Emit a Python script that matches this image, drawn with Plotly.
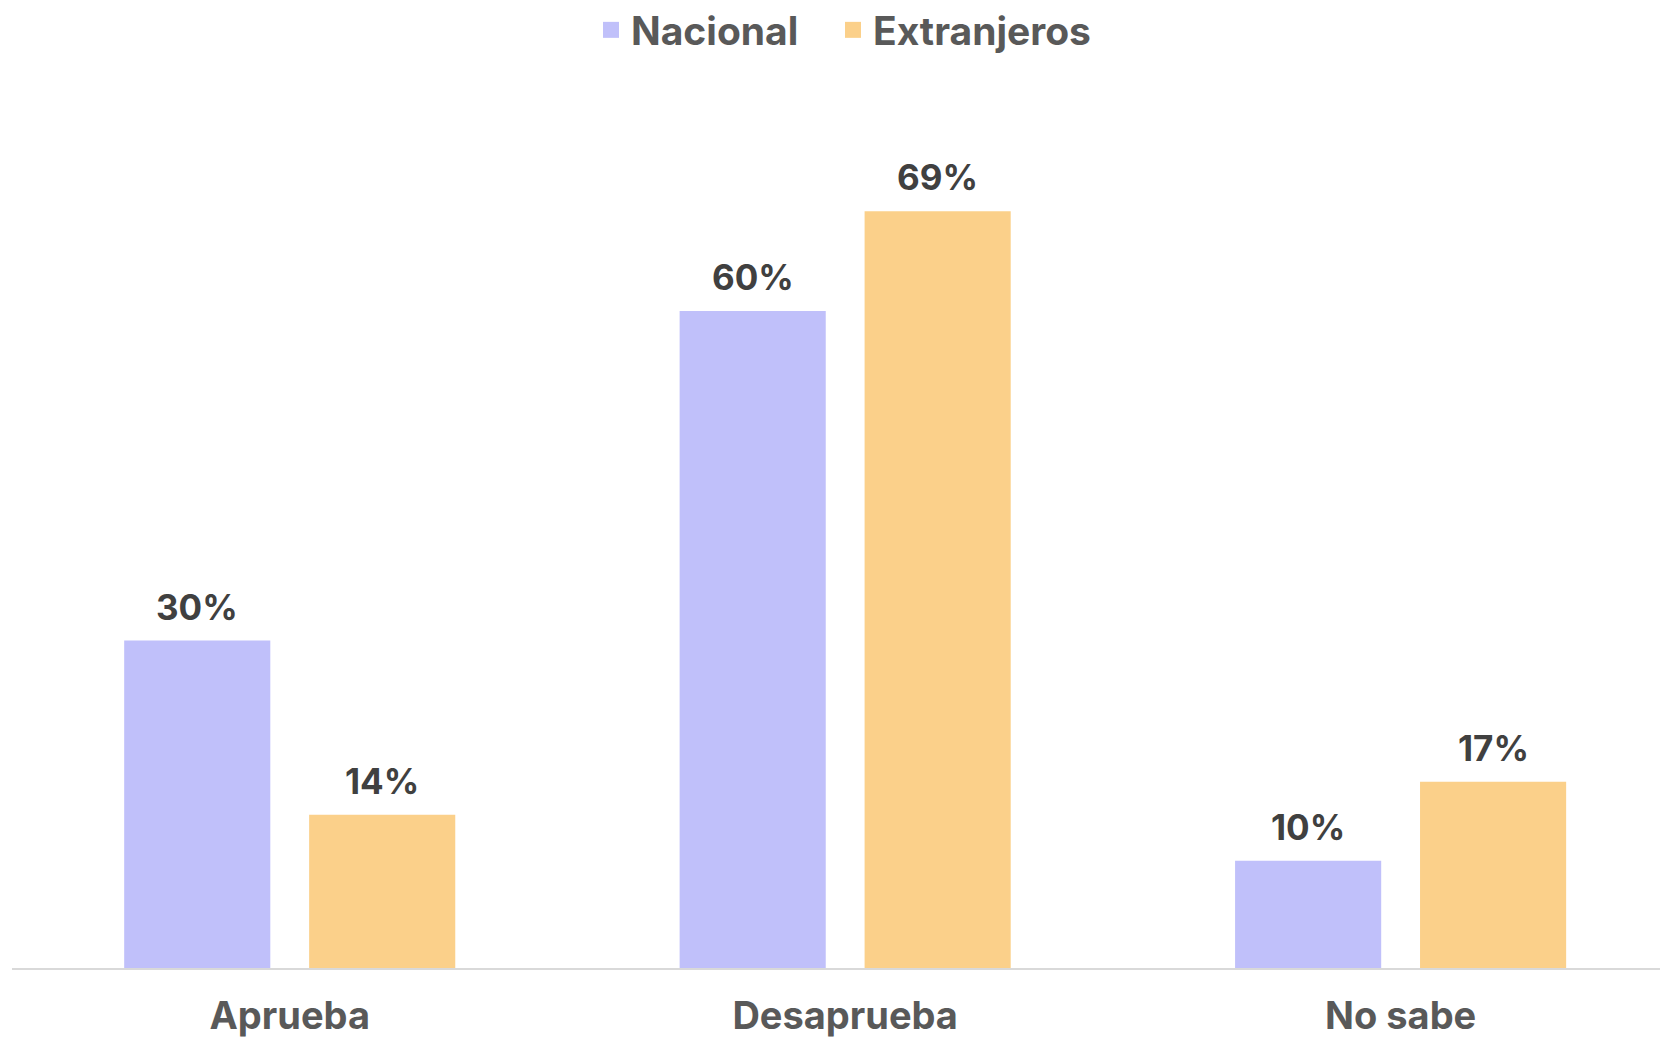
import plotly.graph_objects as go

categories = ["Aprueba", "Desaprueba", "No sabe"]
series_names = ["Nacional", "Extranjeros"]
nacional = [29.9, 60.0, 9.8]
extranjeros = [14.0, 69.1, 17.0]
labels_nacional = ["30%", "60%", "10%"]
labels_extranjeros = ["14%", "69%", "17%"]

colors = ["#C0C0FA", "#FBD08A"]
FONT = "Inter"
BARGAP = 0.334
GROUPGAP = 0.21
W, H = 1660, 1038

fig = go.Figure()
all_values = [nacional, extranjeros]
all_labels = [labels_nacional, labels_extranjeros]
legend_ids = ["legend", "legend2"]

for name, vals, col, lg in zip(series_names, all_values, colors, legend_ids):
    fig.add_trace(go.Bar(
        x=categories, y=vals, name=name, marker=dict(color=col, line=dict(width=0)),
        showlegend=False, hoverinfo="skip",
    ))
    # legend proxy with bigger square
    fig.add_trace(go.Scatter(
        x=[None], y=[None], mode="markers", name=name, legend=lg,
        marker=dict(symbol="square", size=16, color=col),
        showlegend=True,
    ))

# value labels placed above each bar
slot = (1 - BARGAP) / 2
annotations = []
for k, (vals, labs) in enumerate(zip(all_values, all_labels)):
    off = (k - 0.5) * slot
    for i, (v, lab) in enumerate(zip(vals, labs)):
        annotations.append(dict(
            x=i + off, y=v, xref="x", yref="y", text="<b>%s</b>" % lab,
            showarrow=False, yanchor="bottom", xanchor="center", yshift=11,
            font=dict(family=FONT, size=35, color="#404040"),
        ))

legend_style = dict(
    orientation="h", xref="container", yref="container",
    xanchor="left", y=1 - 30 / H, yanchor="middle",
    font=dict(family=FONT, size=39, color="#595959", weight="bold"),
    itemclick=False, bgcolor="rgba(0,0,0,0)",
)

fig.update_layout(
    width=W, height=H,
    barmode="group", bargap=BARGAP, bargroupgap=GROUPGAP,
    plot_bgcolor="white", paper_bgcolor="white",
    margin=dict(l=12, r=0, t=60, b=70, autoexpand=False),
    font=dict(family=FONT, color="#595959"),
    annotations=annotations,
    legend=dict(legend_style, x=591 / W),
    legend2=dict(legend_style, x=833 / W),
    xaxis=dict(
        type="category", range=[-0.5, 2.467], showline=True, linecolor="#D9D9D9",
        linewidth=2, showgrid=False, ticks="", zeroline=False,
        tickfont=dict(family=FONT, size=38, color="#595959", weight="bold"),
        ticklabelstandoff=13, automargin=False,
    ),
    yaxis=dict(
        range=[0, 82.92], showgrid=False, showticklabels=False, zeroline=False,
        showline=False, ticks="", automargin=False,
    ),
)

fig.write_html("out.html", config={"displayModeBar": False},
               post_script="document.body.style.margin='0';")
